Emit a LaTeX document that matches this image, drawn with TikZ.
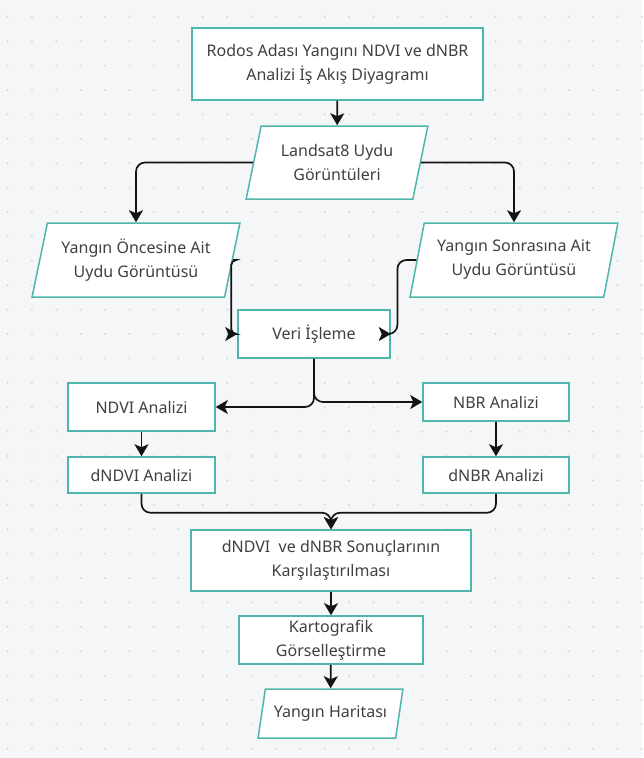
\documentclass[tikz,border=0pt]{standalone}
\usepackage{fontspec}
\setmainfont{Noto Sans}
\usetikzlibrary{shapes.geometric,arrows.meta}

\definecolor{boxteal}{HTML}{4EB6AC}
\definecolor{txtgray}{HTML}{404040}
\definecolor{paper}{HTML}{F5F6F8}
\definecolor{dotgray}{HTML}{D3D7DC}

\tikzset{
  box/.style={draw=boxteal, line width=1.5pt, fill=white, align=center,
    text=txtgray, font=\fontsize{16}{24}\selectfont, inner sep=0pt},
  iobox/.style={box, trapezium, trapezium left angle=#1,
    trapezium right angle=180-#1, trapezium stretches=true},
  conn/.style={draw=black!92, line width=1.7pt, rounded corners=9pt,
    -{Stealth[length=12pt,width=14pt,inset=3pt]}},
}

\begin{document}
\begin{tikzpicture}[x=1pt,y=-1pt]
% paper with dot grid
\fill[paper] (0,0) rectangle (642,758);
\foreach \i in {0,...,26}
  \foreach \j in {0,...,30}
    \fill[dotgray] (7.5+24.4*\i,16.8+24.4*\j) circle (1.1pt);
\useasboundingbox (0,0) rectangle (642,758);

% nodes
\node[box, minimum width=291pt, minimum height=72pt] (title) at (337.5,64)
  {Rodos Adası Yangını NDVI ve dNBR\\Analizi İş Akış Diyagramı};
\node[iobox=73, minimum width=182pt, minimum height=73pt] (landsat) at (337,162.5)
  {Landsat8 Uydu\\Görüntüleri};
\node[iobox=73, minimum width=208pt, minimum height=74pt] (pre) at (136,260)
  {Yangın Öncesine Ait\\Uydu Görüntüsü};
\node[iobox=73, minimum width=208pt, minimum height=74pt] (post) at (514,260)
  {Yangın Sonrasına Ait\\Uydu Görüntüsü};
\node[box, minimum width=152pt, minimum height=48pt] (veri) at (314,334) {Veri İşleme};
\node[box, minimum width=147pt, minimum height=48pt] (ndvi) at (141.5,407) {NDVI Analizi};
\node[box, minimum width=146pt, minimum height=38pt] (nbr) at (496,402) {NBR Analizi};
\node[box, minimum width=147pt, minimum height=36pt] (dndvi) at (141.5,475) {dNDVI Analizi};
\node[box, minimum width=146pt, minimum height=36pt] (dnbr) at (496,475) {dNBR Analizi};
\node[box, minimum width=280pt, minimum height=61pt] (comp) at (331,560.5)
  {dNDVI\ \ ve dNBR Sonuçlarının\\Karşılaştırılması};
\node[box, minimum width=184pt, minimum height=48pt] (karto) at (331,640)
  {Kartografik\\Görselleştirme};
\node[iobox=68, minimum width=145pt, minimum height=49pt] (harita) at (330.5,713.5)
  {Yangın Haritası};

% connectors
\draw[conn] (title) -- (landsat);
\draw[conn] (landsat.west) -| (pre.north);
\draw[conn] (landsat.east) -| (post.north);
\draw[conn, rounded corners=5pt] (pre.east) -| ([xshift=-6pt]veri.west) -- (veri.west);
\draw[conn] (post.west) -- ++(-19,0) |- (veri.east);
\draw[conn] (veri.south) |- (ndvi.east);
\draw[conn] (veri.south) |- (nbr.west);
\draw[conn] (ndvi) -- (dndvi);
\draw[conn] (nbr) -- (dnbr);
\draw[conn] (dndvi.south) -- ++(0,19) -| (comp.north);
\draw[conn] (dnbr.south) -- ++(0,19) -| (comp.north);
\draw[conn] (comp) -- (karto);
\draw[conn] (karto) -- (harita);
\end{tikzpicture}
\end{document}
